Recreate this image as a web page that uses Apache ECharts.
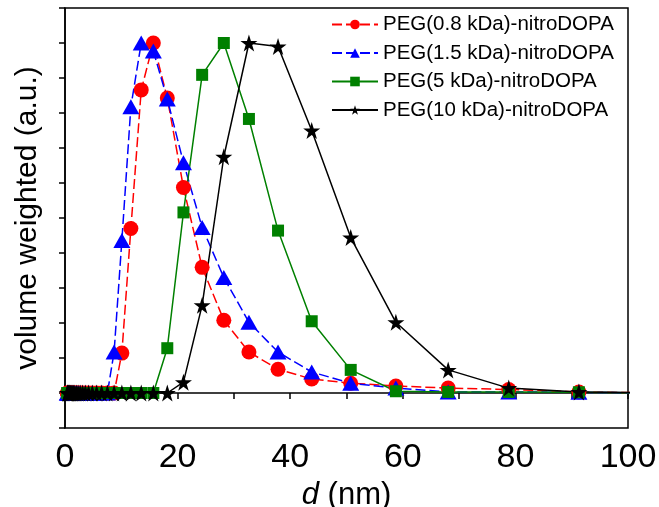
<!DOCTYPE html>
<html>
<head>
<meta charset="utf-8">
<script src="https://cdn.jsdelivr.net/npm/echarts@6/dist/echarts.min.js"></script>
<style>
  html, body { margin: 0; padding: 0; background: #fff; }
  #chart { width: 659px; height: 507px; }
</style>
</head>
<body>
<div id="chart"></div>
<script>
// size bins (nm), shared by all four samples
const sizes = [0.4, 0.4632, 0.5365, 0.6213, 0.7195, 0.8332, 0.9649, 1.117, 1.294, 1.499,
  1.736, 2.01, 2.328, 2.696, 3.122, 3.615, 4.187, 4.849, 5.615, 6.503,
  7.531, 8.721, 10.1, 11.7, 13.54, 15.69, 18.17, 21.04, 24.36, 28.21,
  32.67, 37.84, 43.82, 50.75, 58.77, 68.06, 78.82, 91.28, 105.7];

// volume weighted distributions (a.u., peak = 100)
const peg08 = [0, 0, 0, 0, 0, 0, 0, 0, 0, 0,
  0, 0, 0, 0, 0, 0, 0, 0, 0, 0,
  0, 0, 11.4, 47, 86.6, 100, 84.3, 58.7, 35.9, 20.8,
  11.7, 6.8, 4, 2.8, 2, 1.4, 1, 0.3, 0];
const peg15 = [0, 0, 0, 0, 0, 0, 0, 0, 0, 0,
  0, 0, 0, 0, 0, 0, 0, 0, 0, 0,
  0, 11.7, 43.6, 81.8, 100, 97.7, 84, 65.8, 47.3, 33,
  20.2, 11.7, 6, 2.8, 1.4, 0.3, 0.3, 0.2, 0];
const peg5 = [0, 0, 0, 0, 0, 0, 0, 0, 0, 0,
  0, 0, 0, 0, 0, 0, 0, 0, 0, 0,
  0, 0, 0, 0, 0, 0, 12.8, 51.6, 90.9, 100,
  78.3, 46.4, 20.5, 6.6, 0.5, 0.3, 0.3, 0.2, 0];
const peg10 = [0, 0, 0, 0, 0, 0, 0, 0, 0, 0,
  0, 0, 0, 0, 0, 0, 0, 0, 0, 0,
  0, 0, 0, 0, 0, 0, 0, 3.1, 25.1, 67.5,
  100, 99, 75, 44.4, 20.2, 6.6, 1.4, 0.3, 0];

const seriesNames = ['PEG(0.8 kDa)-nitroDOPA', 'PEG(1.5 kDa)-nitroDOPA', 'PEG(5 kDa)-nitroDOPA', 'PEG(10 kDa)-nitroDOPA'];

const FONT = '"Liberation Sans", Arial, sans-serif';
const STAR = 'path://M50,0 L61.2,34.5 L97.6,34.5 L68.2,55.9 L79.4,90.5 L50,69.1 L20.6,90.5 L31.8,55.9 L2.4,34.5 L38.8,34.5 Z';

const pairs = (ys) => sizes.map((x, i) => [x, ys[i]]);

const makeSeries = (name, ys, color, symbol, size, dashed) => ({
  name: name,
  type: 'line',
  data: pairs(ys),
  symbol: symbol,
  symbolSize: size,
  showAllSymbol: true,
  clip: true,
  itemStyle: { color: color },
  lineStyle: { color: color, width: 1.5, type: dashed ? [10, 4] : 'solid' },
  emphasis: { disabled: true },
  animation: false
});

const chart = echarts.init(document.getElementById('chart'));

chart.setOption({
  backgroundColor: '#fff',
  animation: false,
  grid: {
    left: 65, right: 31, top: 8, bottom: 79,
    outerBoundsMode: 'none',
    containLabel: false,
    show: true, borderColor: '#000', borderWidth: 1.5
  },
  legend: {
    data: seriesNames,
    orient: 'vertical',
    left: 326,
    top: 9,
    itemWidth: 46,
    itemHeight: 12,
    itemGap: 7.5,
    textStyle: { fontFamily: FONT, fontSize: 20.5, color: '#000', lineHeight: 20 }
  },
  xAxis: {
    type: 'value',
    min: 0, max: 100, interval: 20,
    name: '{i|d} (nm)',
    nameLocation: 'middle',
    nameGap: 50,
    nameTextStyle: {
      fontFamily: FONT, fontSize: 31, color: '#000',
      rich: { i: { fontFamily: FONT, fontSize: 31, fontStyle: 'italic', color: '#000' } }
    },
    axisLine: { lineStyle: { color: '#000', width: 1.5 } },
    axisTick: { show: true, length: 6, inside: false, lineStyle: { color: '#000', width: 1.5 } },
    minorTick: { show: true, splitNumber: 2, length: 6, lineStyle: { color: '#000', width: 1.5 } },
    axisLabel: { fontFamily: FONT, fontSize: 34, color: '#000', margin: 13 },
    splitLine: { show: false }
  },
  yAxis: {
    type: 'value',
    min: -10, max: 110, interval: 10,
    name: 'volume weighted (a.u.)',
    nameLocation: 'middle',
    nameGap: 22,
    nameTextStyle: { fontFamily: FONT, fontSize: 30, color: '#000' },
    axisLine: { show: true, lineStyle: { color: '#000', width: 1.5 } },
    axisTick: { show: true, length: 6, inside: false, lineStyle: { color: '#000', width: 1.5 } },
    axisLabel: { show: false },
    splitLine: { show: false }
  },
  series: [
    makeSeries(seriesNames[0], peg08, '#ff0000', 'circle', 15, true),
    makeSeries(seriesNames[1], peg15, '#0000ff', 'triangle', [17, 15], true),
    makeSeries(seriesNames[2], peg5, '#008000', 'rect', 12, false),
    makeSeries(seriesNames[3], peg10, '#000000', STAR, 17, false)
  ]
});
</script>
</body>
</html>
